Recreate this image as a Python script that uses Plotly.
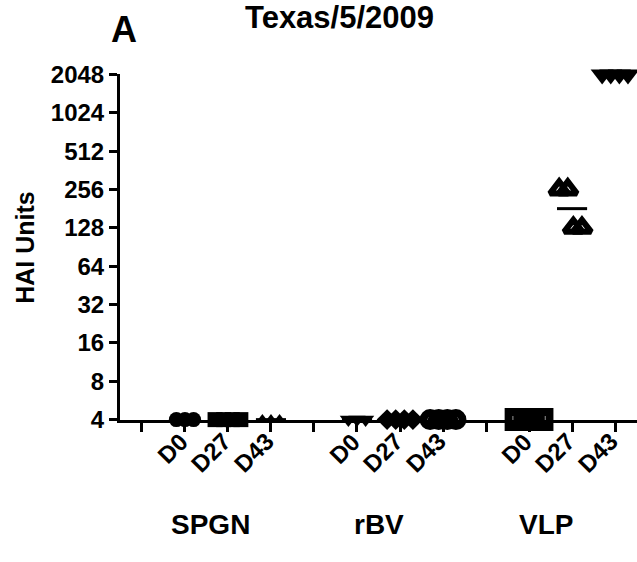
import numpy as np
import plotly.graph_objects as go

# ---------------- data ----------------
groups = ["SPGN", "rBV", "VLP"]
days = ["D0", "D27", "D43"]

spgn_d0 = [4, 4, 4]
spgn_d27 = [4, 4, 4, 4]
spgn_d43 = [4, 4, 4]
rbv_d0 = [4, 4, 4]
rbv_d27 = [4, 4, 4, 4]
rbv_d43 = [4, 4, 4, 4]
vlp_d0 = [4, 4, 4, 4]
vlp_d27 = [256, 256, 128, 128]
vlp_d43 = [2048, 2048, 2048, 2048]

y_ticks = [4, 8, 16, 32, 64, 128, 256, 512, 1024, 2048]

series = [
    (spgn_d0, "circle"), (spgn_d27, "square"), (spgn_d43, "triangle-up"),
    (rbv_d0, "triangle-down"), (rbv_d27, "diamond"), (rbv_d43, "circle-open"),
    (vlp_d0, "square-open"), (vlp_d27, "triangle-up-open"), (vlp_d43, "triangle-down"),
]
sizes = [15, 15, 11, 15, 16, 13, 15, 16, 20]
open_widths = [0, 0, 0, 0, 0, 8, 8, 6, 0]

FONT = "Liberation Sans, Arial, sans-serif"

fig = go.Figure()

positions = []
for gi in range(3):
    for di in range(3):
        positions.append(4 * gi + di + 1)

for (vals, sym), size, lw, pos in zip(series, sizes, open_widths, positions):
    vals = np.array(vals, dtype=float)
    xs = np.zeros(len(vals))
    uniq = list(dict.fromkeys(vals.tolist()))
    for j, u in enumerate(uniq):
        idx = np.where(vals == u)[0]
        n = len(idx)
        spread = 0.2 * (n - 1)
        shift = 0.0 if len(uniq) == 1 else (-0.2 if j == 0 else 0.13)
        xs[idx] = pos + shift + np.linspace(-spread, spread, n) / 2
    fig.add_trace(go.Scatter(
        x=xs, y=vals, mode="markers", cliponaxis=False, showlegend=False,
        marker=dict(symbol=sym, size=size, color="black",
                    line=dict(color="black", width=lw)),
    ))
    gmean = float(2 ** np.mean(np.log2(vals)))
    fig.add_trace(go.Scatter(
        x=[pos - 0.35, pos + 0.35], y=[gmean, gmean], mode="lines",
        cliponaxis=False, showlegend=False,
        line=dict(color="black", width=3),
    ))

tickvals = list(range(0, 12))

eps = 0.003
fig.update_layout(
    width=637, height=562,
    margin=dict(l=120, r=0, t=74, b=142),
    plot_bgcolor="white", paper_bgcolor="white",
    font=dict(family=FONT, color="black"),
    xaxis=dict(
        range=[-0.51, 11.51], tickvals=tickvals, showticklabels=False,
        ticks="outside", ticklen=9, tickwidth=3, tickcolor="black",
        showline=True, linecolor="black", linewidth=3, showgrid=False, zeroline=False,
    ),
    yaxis=dict(
        type="log", range=[np.log10(4) - eps, np.log10(2048) + eps],
        tickvals=y_ticks, ticktext=[str(v) for v in y_ticks],
        ticks="outside", ticklen=8, tickwidth=3, tickcolor="black",
        showline=True, linecolor="black", linewidth=3, showgrid=False, zeroline=False,
        tickfont=dict(family=FONT, size=24, weight="bold"),
    ),
)

# rotated category labels (D0 / D27 / D43) under each data column
for pos, i in zip(positions, range(len(positions))):
    fig.add_annotation(text=days[i % 3], x=pos + 0.22, y=-0.018, xref="x", yref="paper",
                       textangle=-45, xanchor="right", yanchor="top", showarrow=False,
                       borderpad=0,
                       font=dict(family=FONT, size=24, weight="bold"))

annos = [
    dict(text="Texas/5/2009", x=0.4255, y=1.162, size=31),
    dict(text="A", x=0.008, y=1.13, size=36),
]
for a in annos:
    fig.add_annotation(text=a["text"], x=a["x"], y=a["y"], xref="paper", yref="paper",
                       xanchor="center", yanchor="middle", showarrow=False,
                       font=dict(family=FONT, size=a["size"], weight="bold"))

fig.add_annotation(text="HAI Units", x=-0.184, y=0.5, xref="paper", yref="paper",
                   textangle=-90, xanchor="center", yanchor="middle", showarrow=False,
                   font=dict(family=FONT, size=25, weight="bold"))

group_x = [1.6, 5.5, 9.4]
for g, gx in zip(groups, group_x):
    fig.add_annotation(text=g, x=gx, y=-0.303, xref="x", yref="paper",
                       xanchor="center", yanchor="middle", showarrow=False,
                       font=dict(family=FONT, size=28, weight="bold"))

fig.write_html("out.html", config={"displayModeBar": False},
               post_script="document.body.style.margin='0';")
